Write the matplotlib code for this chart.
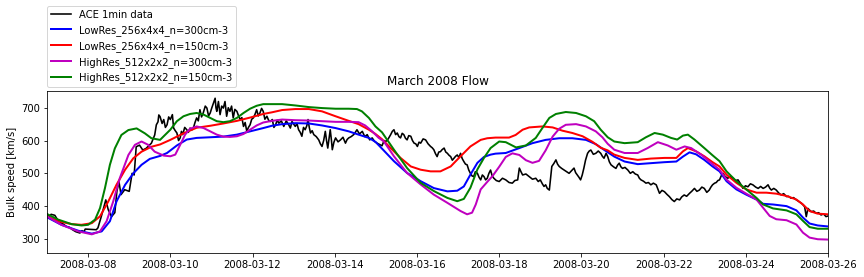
import numpy as np
import matplotlib
matplotlib.use("Agg")
import matplotlib.pyplot as plt
import matplotlib.dates as mdates

START = np.datetime64("2008-03-07T00:00")
END = np.datetime64("2008-03-26T00:00")

# ACE 1-min solar wind speed (days since 2008-03-07, km/s)
ace_days = [0.0, 0.05, 0.1, 0.19, 0.25, 0.33, 0.4, 0.47, 0.55, 0.62, 0.7, 0.8, 0.85, 0.9, 0.93,
            1.2, 1.24, 1.32, 1.43, 1.49, 1.57, 1.65, 1.7, 1.75, 1.8, 1.89, 2.0, 2.07, 2.12, 2.17,
            2.25, 2.33, 2.41, 2.54,
            2.62, 2.66, 2.7, 2.72, 2.75, 2.8, 2.84, 2.88, 2.92, 2.96, 3.0, 3.05, 3.08, 3.12, 3.16,
            3.2, 3.24, 3.27, 3.3, 3.35, 3.4, 3.44, 3.48, 3.52, 3.56, 3.6, 3.64, 3.68, 3.72, 3.76,
            3.8, 3.85, 3.89, 3.93, 3.97, 4.01, 4.05, 4.09, 4.11, 4.13, 4.17, 4.19, 4.21, 4.25, 4.29,
            4.33, 4.37, 4.41, 4.45, 4.49, 4.53, 4.57, 4.62, 4.66, 4.7, 4.74, 4.78, 4.82, 4.86, 4.9,
            4.94, 4.98, 5.02, 5.06, 5.1, 5.14, 5.18, 5.22, 5.26, 5.3, 5.35, 5.39, 5.43, 5.48, 5.52,
            5.56, 5.6, 5.64, 5.7, 5.76, 5.82, 5.88, 5.92, 5.96, 6.0, 6.04, 6.08, 6.12, 6.16, 6.2,
            6.24, 6.28, 6.32, 6.35, 6.38, 6.41, 6.45, 6.49, 6.55, 6.61, 6.65, 6.69, 6.73, 6.77, 6.8,
            6.83, 6.86, 6.89, 6.92, 6.94, 6.98, 7.02, 7.08, 7.14, 7.2, 7.26, 7.3, 7.34, 7.4, 7.46,
            7.5, 7.54, 7.6, 7.67, 7.73, 7.79, 7.85, 7.91, 7.97, 8.03, 8.09, 8.15, 8.2, 8.24, 8.3,
            8.36, 8.4, 8.44, 8.48, 8.52, 8.56, 8.6, 8.64, 8.68, 8.72, 8.76, 8.8, 8.85, 8.89, 8.93,
            8.97, 9.01, 9.05, 9.09, 9.15, 9.21, 9.27, 9.33, 9.37, 9.41, 9.45, 9.49, 9.53, 9.57, 9.61,
            9.66, 9.7, 9.74, 9.78, 9.82, 9.86, 9.9, 9.94, 9.98, 10.02, 10.06, 10.1, 10.14, 10.18, 10.22,
            10.26, 10.3, 10.34, 10.38, 10.42, 10.47, 10.51, 10.55, 10.59, 10.63, 10.67, 10.71, 10.75, 10.79, 10.83,
            10.87, 10.93, 11.0, 11.08, 11.16, 11.24, 11.32, 11.38, 11.45, 11.49, 11.53, 11.57, 11.65, 11.73, 11.81,
            11.89, 11.95, 12.0, 12.05, 12.09, 12.13, 12.17, 12.22, 12.28, 12.33, 12.38, 12.42, 12.46, 12.52, 12.58,
            12.64, 12.7, 12.76, 12.82, 12.86, 12.9, 12.94, 12.98, 13.02, 13.06, 13.1, 13.15, 13.19, 13.23, 13.29,
            13.35, 13.41, 13.47, 13.51, 13.55, 13.6, 13.64, 13.68, 13.72, 13.78, 13.84, 13.88, 13.92, 13.96, 14.0,
            14.06, 14.13, 14.19, 14.25, 14.31, 14.37, 14.41, 14.45, 14.51, 14.57, 14.63, 14.69, 14.75, 14.82, 14.86,
            14.9, 14.96, 15.02, 15.08, 15.14, 15.2, 15.26, 15.32, 15.39, 15.44, 15.5, 15.56, 15.63, 15.69, 15.75,
            15.81, 15.87, 15.93, 15.99, 16.05, 16.11, 16.15, 16.19, 16.24, 16.28, 16.32, 16.36, 16.4, 16.44, 16.5,
            16.56, 16.62, 16.69, 16.75, 16.81, 16.87, 16.93, 16.99, 17.05, 17.11, 17.17, 17.24, 17.3, 17.36, 17.42,
            17.48, 17.54, 17.58, 17.62, 17.68, 17.74, 17.8, 17.86, 17.92, 17.99, 18.04, 18.1, 18.16, 18.23, 18.29,
            18.35, 18.39, 18.43, 18.47, 18.51, 18.55, 18.59, 18.65, 18.71, 18.77, 18.83, 18.89, 18.95, 19.0]
ace_speed = [376, 368, 375, 372, 360, 350, 345, 338, 335, 328, 322, 318, 325, 322, 330,
             328, 334, 368, 419, 389, 368, 380, 445, 475, 435, 450, 445, 500, 495, 581,
             586, 571, 576, 592,
             617, 648, 657, 678, 673, 652, 664, 640, 648, 672, 664, 679, 638, 630, 623,
             600, 608, 628, 618, 640, 633, 625, 638, 632, 638, 655, 669, 660, 694, 672,
             684, 705, 699, 675, 684, 700, 714, 729, 700, 689, 719, 700, 679, 705, 699,
             719, 674, 700, 689, 705, 669, 695, 689, 675, 664, 670, 643, 655, 628, 640,
             648, 665, 669, 680, 694, 675, 684, 698, 689, 665, 674, 662, 658, 664, 640,
             648, 662, 653, 660, 643, 660, 648, 638, 658, 650, 643, 652, 633, 625, 613,
             640, 633, 645, 664, 640, 623, 630, 618, 612, 602, 590, 582, 600, 628, 600,
             577, 605, 633, 600, 572, 595, 608, 596, 602, 610, 592, 603, 608, 612, 618,
             625, 633, 620, 628, 612, 618, 602, 608, 597, 592, 588, 584, 600, 597, 605,
             618, 628, 633, 618, 623, 612, 608, 622, 618, 607, 602, 615, 613, 600, 592,
             590, 582, 595, 592, 605, 602, 590, 582, 578, 572, 560, 551, 565, 566, 572,
             577, 565, 561, 555, 551, 540, 546, 552, 556, 548, 561, 545, 536, 528, 526,
             510, 500, 492, 490, 505, 500, 488, 480, 495, 490, 480, 485, 500, 510, 492,
             485, 478, 475, 485, 480, 472, 470, 478, 480, 516, 505, 495, 498, 490, 482,
             485, 475, 480, 468, 460, 465, 454, 449, 521, 530, 541, 528, 521, 515, 510,
             505, 500, 508, 516, 502, 495, 488, 480, 495, 516, 540, 561, 568, 571, 558,
             561, 568, 561, 552, 546, 561, 551, 535, 526, 520, 515, 525, 531, 520, 515,
             518, 510, 500, 505, 498, 495, 485, 480, 476, 470, 472, 465, 470, 465, 452,
             439, 448, 444, 436, 429, 420, 414, 422, 419, 428, 434, 430, 439, 446, 454,
             445, 449, 458, 454, 442, 449, 458, 465, 470, 472, 478, 480, 492, 500, 490,
             485, 490, 485, 478, 480, 468, 454, 462, 459, 468, 465, 458, 454, 460, 454,
             458, 465, 455, 449, 454, 449, 440, 434, 438, 429, 430, 424, 426, 419, 414,
             409, 404, 398, 368, 393, 388, 383, 385, 378, 380, 373, 376, 368, 370]

lowres300_days = [0.0, 0.35, 0.76, 1.09, 1.33, 1.53, 1.69, 1.9, 2.1, 2.3, 2.5, 2.75, 2.92, 3.16, 3.4,
                  3.64, 3.97, 4.29, 4.62, 4.94, 5.26, 5.47, 5.72, 6.04, 6.37, 6.69, 7.02, 7.34, 7.58, 7.83,
                  7.99, 8.19, 8.44, 8.76, 9.09, 9.41, 9.74, 9.98, 10.14, 10.3, 10.47, 10.63, 10.79, 10.91, 11.16,
                  11.49, 11.81, 12.13, 12.46, 12.78, 13.11, 13.35, 13.56, 13.8, 14.05, 14.37, 14.69, 15.02, 15.31, 15.47,
                  15.63, 15.79, 15.99, 16.19, 16.36, 16.53, 16.77, 17.01, 17.26, 17.42, 17.66, 17.99, 18.23, 18.39, 18.55,
                  18.75, 19.0]
lowres300_speed = [366, 343, 325, 316, 323, 354, 414, 465, 500, 526, 544, 553, 562, 585, 603,
                   608, 610, 612, 618, 628, 638, 645, 650, 653, 652, 646, 638, 628, 618, 608,
                   596, 570, 537, 501, 476, 455, 445, 447, 460, 496, 532, 550, 557, 560, 562,
                   577, 592, 602, 607, 607, 602, 589, 571, 551, 536, 528, 531, 534, 536, 551,
                   564, 558, 541, 521, 506, 476, 451, 435, 420, 407, 405, 400, 387, 365, 347,
                   341, 338]

lowres150_days = [0.0, 0.27, 0.6, 0.84, 1.09, 1.29, 1.49, 1.69, 1.9, 2.1, 2.3, 2.54, 2.75, 3.0, 3.32,
                  3.64, 3.97, 4.29, 4.62, 4.94, 5.26, 5.47, 5.72, 6.04, 6.37, 6.69, 7.02, 7.34, 7.58, 7.83,
                  7.99, 8.15, 8.36, 8.6, 8.85, 9.09, 9.33, 9.57, 9.82, 10.06, 10.3, 10.55, 10.71, 10.91, 11.24,
                  11.4, 11.57, 11.73, 12.05, 12.3, 12.54, 12.78, 13.03, 13.27, 13.47, 13.64, 13.8, 14.05, 14.37, 14.69,
                  15.02, 15.31, 15.47, 15.59, 15.79, 15.99, 16.19, 16.36, 16.53, 16.77, 17.01, 17.26, 17.5, 17.74, 17.99,
                  18.23, 18.39, 18.55, 18.75, 19.0]
lowres150_speed = [369, 354, 345, 343, 348, 369, 414, 465, 511, 546, 566, 581, 588, 602, 622,
                   639, 645, 652, 660, 670, 681, 686, 693, 696, 696, 689, 674, 660, 650, 633,
                   620, 604, 577, 547, 521, 511, 506, 506, 521, 552, 582, 602, 607, 609, 609,
                   617, 633, 640, 643, 640, 630, 623, 613, 596, 578, 570, 557, 547, 541, 545,
                   547, 547, 567, 577, 567, 552, 534, 521, 496, 471, 451, 441, 441, 438, 431,
                   420, 405, 385, 377, 375]

highres300_days = [0.0, 0.35, 0.76, 1.09, 1.29, 1.45, 1.61, 1.77, 1.98, 2.14, 2.3, 2.46, 2.62, 2.84, 3.0,
                   3.12, 3.24, 3.36, 3.48, 3.64, 3.81, 3.97, 4.13, 4.29, 4.45, 4.62, 4.78, 4.94, 5.1, 5.26,
                   5.47, 5.72, 6.04, 6.37, 6.69, 7.02, 7.34, 7.58, 7.74, 7.91, 8.07, 8.19, 8.44, 8.76, 9.09,
                   9.41, 9.74, 10.06, 10.22, 10.34, 10.43, 10.55, 10.71, 10.84, 11.0, 11.16, 11.32, 11.49, 11.65, 11.81,
                   11.97, 12.13, 12.3, 12.46, 12.62, 12.87, 13.11, 13.35, 13.51, 13.64, 13.8, 14.05, 14.37, 14.61, 14.86,
                   15.1, 15.31, 15.51, 15.67, 15.91, 16.15, 16.36, 16.53, 16.77, 17.01, 17.26, 17.42, 17.58, 17.74, 17.99,
                   18.23, 18.39, 18.55, 18.75, 19.0]
highres300_speed = [369, 343, 323, 314, 323, 354, 414, 485, 556, 587, 597, 587, 566, 554, 552,
                    557, 587, 618, 636, 643, 638, 628, 618, 612, 611, 613, 620, 633, 646, 655,
                    660, 664, 662, 661, 659, 657, 657, 656, 646, 628, 608, 598, 552, 501, 466,
                    435, 410, 385, 375, 380, 405, 451, 474, 492, 520, 550, 561, 556, 540, 532,
                    538, 570, 612, 636, 648, 650, 643, 628, 610, 590, 572, 562, 562, 577, 595,
                    585, 572, 582, 577, 557, 532, 511, 481, 456, 438, 420, 395, 370, 360, 357,
                    344, 319, 304, 299, 298]

highres150_days = [0.0, 0.27, 0.6, 0.84, 1.0, 1.17, 1.29, 1.41, 1.53, 1.65, 1.81, 1.98, 2.18, 2.38, 2.54,
                   2.75, 3.0, 3.16, 3.32, 3.48, 3.64, 3.81, 3.97, 4.13, 4.29, 4.45, 4.62, 4.78, 4.94, 5.1,
                   5.26, 5.47, 5.72, 6.04, 6.37, 6.69, 7.02, 7.34, 7.54, 7.66, 7.83, 7.99, 8.15, 8.44, 8.76,
                   9.09, 9.41, 9.74, 9.98, 10.14, 10.3, 10.47, 10.63, 10.79, 11.0, 11.16, 11.41, 11.65, 11.89, 12.05,
                   12.22, 12.38, 12.62, 12.87, 13.11, 13.31, 13.47, 13.64, 13.8, 14.05, 14.37, 14.57, 14.78, 14.98, 15.18,
                   15.33, 15.47, 15.59, 15.75, 15.99, 16.19, 16.36, 16.53, 16.77, 17.01, 17.26, 17.42, 17.66, 17.99, 18.23,
                   18.39, 18.55, 18.75, 19.0]
highres150_speed = [376, 359, 345, 341, 343, 359, 394, 455, 526, 576, 617, 632, 637, 622, 607,
                    602, 633, 659, 674, 681, 684, 679, 669, 659, 656, 659, 669, 684, 697, 706,
                    711, 711, 711, 707, 702, 699, 697, 697, 696, 689, 669, 643, 625, 572, 516,
                    471, 446, 425, 415, 422, 456, 512, 547, 577, 597, 595, 579, 585, 608, 638,
                    669, 681, 687, 684, 674, 659, 633, 610, 597, 592, 595, 610, 623, 618, 608,
                    603, 615, 618, 603, 577, 555, 537, 506, 476, 451, 425, 405, 393, 387, 375,
                    355, 336, 331, 331]


def to_times(days):
    secs = np.round(np.asarray(days) * 86400).astype("timedelta64[s]")
    return START + secs


fig = plt.figure(figsize=(12, 277 / 72), dpi=72)
ax = fig.add_axes([0.0544, 0.0866, 0.904, 0.586])

ax.plot(to_times(ace_days), ace_speed, color="k", lw=1.6, label="ACE 1min data")
ax.plot(to_times(lowres300_days), lowres300_speed, color="b", lw=2, label="LowRes_256x4x4_n=300cm-3")
ax.plot(to_times(lowres150_days), lowres150_speed, color="r", lw=2, label="LowRes_256x4x4_n=150cm-3")
ax.plot(to_times(highres300_days), highres300_speed, color="m", lw=2, label="HighRes_512x2x2_n=300cm-3")
ax.plot(to_times(highres150_days), highres150_speed, color="g", lw=2, label="HighRes_512x2x2_n=150cm-3")

ax.set_xlim(START, END)
ax.set_ylim(257, 752)
ax.set_yticks([300, 400, 500, 600, 700])
ax.xaxis.set_major_locator(mdates.DayLocator(bymonthday=range(2, 31, 2)))
ax.xaxis.set_major_formatter(mdates.DateFormatter("%Y-%m-%d"))
ax.set_ylabel("Bulk speed [km/s]")
ax.set_title("March 2008 Flow")
ax.legend(loc="lower left", bbox_to_anchor=(0, 1.02), borderaxespad=0)

fig.savefig("out.png", dpi=72)
